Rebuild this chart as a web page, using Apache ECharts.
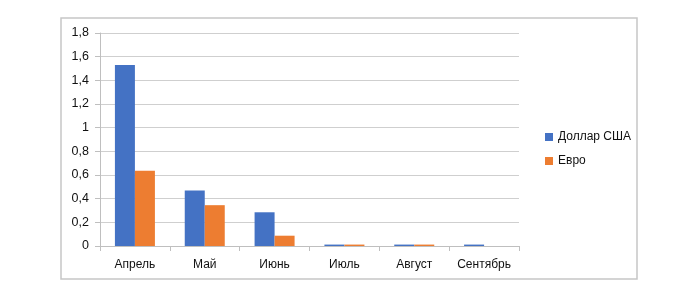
<!DOCTYPE html>
<html><head><meta charset="utf-8">
<script src="https://cdn.jsdelivr.net/npm/echarts@6/dist/echarts.min.js"></script>
<style>html,body{margin:0;padding:0;background:#fff}#c{width:700px;height:300px}</style>
</head><body><div id="c"></div>
<script>
const categories = ['Апрель','Май','Июнь','Июль','Август','Сентябрь'];
const usd = [1.53, 0.47, 0.285, 0.012, 0.012, 0.012];
const eur = [0.635, 0.345, 0.087, 0.012, 0.012, 0];
const seriesNames = ['Доллар США','Евро'];
const yTicks = {min:0, max:1.8, interval:0.2};

const chart = echarts.init(document.getElementById('c'), null, {renderer:'canvas'});
const font = 'Liberation Sans, Arial, sans-serif';
chart.setOption({
  animation:false,
  backgroundColor:'#fff',
  graphic:[{type:'rect', shape:{x:61,y:18,width:576,height:261}, style:{fill:'none', stroke:'#c6c6c6', lineWidth:1.5}, z:-1}],
  grid:{left:100, top:33, right:181, bottom:54},
  legend:{orient:'vertical', left:540, top:126, itemWidth:8, itemHeight:8, itemGap:12, icon:'rect',
    textStyle:{fontFamily:font, fontSize:12, color:'#111'}, data:seriesNames},
  xAxis:{type:'category', data:categories,
    axisLine:{lineStyle:{color:'#bfbfbf'}},
    axisTick:{show:true, length:5, lineStyle:{color:'#bfbfbf'}},
    axisLabel:{interval:0, fontFamily:font, fontSize:12, color:'#111', margin:13}},
  yAxis:{type:'value', min:yTicks.min, max:yTicks.max, interval:yTicks.interval,
    axisLine:{show:true, lineStyle:{color:'#bfbfbf'}},
    axisTick:{show:true, length:5, lineStyle:{color:'#bfbfbf'}},
    splitLine:{lineStyle:{color:'#cfcfcf'}},
    axisLabel:{fontFamily:font, fontSize:12.5, color:'#111', margin:11,
      formatter:v=>String(Math.round(v*10)/10).replace('.',',')}},
  series:[
    {name:seriesNames[0], type:'bar', data:usd, barWidth:20, barGap:'0%',
     itemStyle:{color:'#4472C4'}},
    {name:seriesNames[1], type:'bar', data:eur, barWidth:20,
     itemStyle:{color:'#ED7D31'}}
  ]
});
</script></body></html>
